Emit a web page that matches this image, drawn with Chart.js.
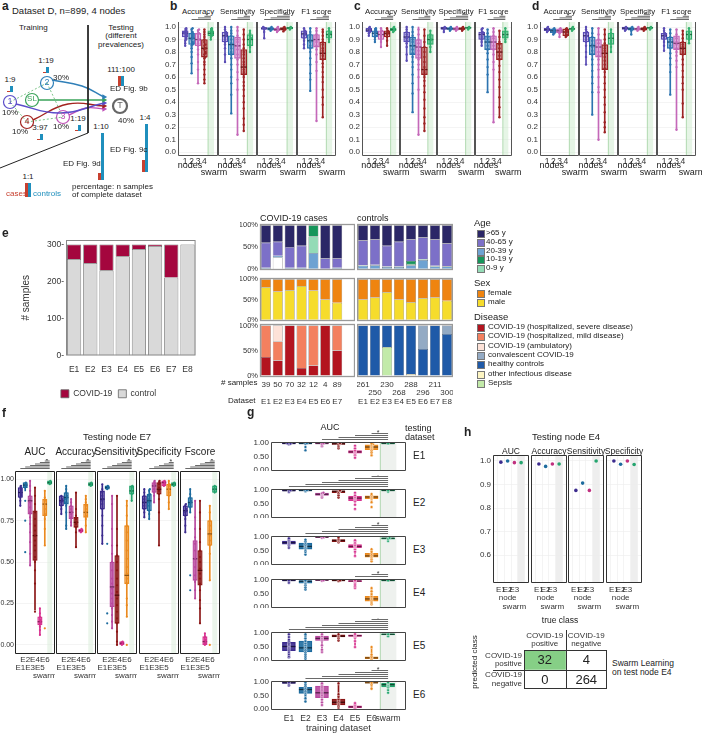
<!DOCTYPE html>
<html><head><meta charset="utf-8">
<script src="https://cdn.jsdelivr.net/npm/chart.js@4.4.1/dist/chart.umd.min.js"></script>
<style>
body{margin:0;background:#fff;width:702px;height:735px;position:relative;overflow:hidden;font-family:"Liberation Sans",Arial,sans-serif;color:#222}
canvas{position:absolute}
.t{position:absolute;white-space:nowrap;line-height:1.05}
.sw{position:absolute;width:6px;height:6px;border:0.5px solid #777}
</style></head><body>
<script>
// ---------- panel a (schematic) ----------
const aNodeLabels = ['1', '2', '3', '4', 'SL', 'T'];
const aNodeX = [10, 47, 63, 27, 32, 120];
const aNodeY = [102, 83, 117, 122, 100, 106];
const aNodeColors = ['#5b4dc9', '#2f7fb8', '#c050b8', '#a3231f', '#3aa35a', '#666666'];
const aFlows = [
  [[52, 80], [82, 86], [104, 97]],
  [[39, 100], [70, 100], [104, 100]],
  [[16, 104], [60, 113], [104, 103]],
  [[33, 120], [68, 104], [104, 106]],
  [[69, 115], [86, 108], [104, 109]]
];
const aFlowColors = ['#2f7fb8', '#3aa35a', '#5b4dc9', '#a3231f', '#c050b8'];
const aLinks = [[0, 1], [0, 3], [1, 2], [3, 2]];
const aRatioLabels = ['1:9', '1:19', '111:100', '1:19', '3:97', '1:10', '1:4', '1:1'];
const aRatioX = [10, 46, 121, 78, 40, 101, 145, 28];
const aRatioBase = [92, 73, 86, 131, 140, 180, 172, 197];
const aRatioCases = [1, 1, 10, 1, 1, 7, 12, 14];
const aRatioControls = [6, 6, 10, 6, 6, 47, 48, 14];
const aPctText = ['10%', '30%', '10%', '10%', '40%'];
const aPctX = [2, 53, 53, 12, 118];
const aPctY = [109, 74, 123, 128, 117];

// ---------- panels b, c, d ----------
const nodeGroups = ['1', '2', '3', '4', 'swarm'];
const bdMetrics = ['Accuracy', 'Sensitivity', 'Specificity', 'F1 score'];
const bdSigFrom = [2, 2, 1, 2];
// [min, q1, median, q3, max] per metric, per group (1-4, swarm)
const bStats = [
  [[0.85,0.92,0.95,0.97,0.99],[0.63,0.86,0.91,0.95,0.99],[0.55,0.85,0.9,0.95,0.98],[0.55,0.76,0.83,0.9,0.98],[0.9,0.93,0.95,0.97,0.99]],
  [[0.72,0.88,0.93,0.96,1.0],[0.31,0.78,0.86,0.93,1.0],[0.14,0.75,0.85,0.92,1.0],[0.17,0.62,0.68,0.82,0.98],[0.8,0.85,0.9,0.94,0.97]],
  [[0.91,0.98,0.99,0.995,1.0],[0.97,0.975,0.985,0.995,1.0],[0.96,0.97,0.98,0.99,1.0],[0.965,0.975,0.985,0.995,1.0],[0.98,0.985,0.992,0.998,1.0]],
  [[0.83,0.91,0.945,0.97,0.99],[0.49,0.83,0.89,0.94,0.99],[0.25,0.84,0.9,0.94,0.99],[0.28,0.74,0.79,0.88,0.98],[0.88,0.91,0.94,0.97,0.99]]
];
const bPoints = [
  [[0.85,0.87,0.89,0.9,0.91,0.92,0.93,0.94,0.95,0.95,0.96,0.97,0.98,0.99],
   [0.63,0.71,0.76,0.8,0.83,0.85,0.86,0.87,0.88,0.9,0.91,0.92,0.93,0.94,0.95,0.96,0.98,0.99],
   [0.55,0.66,0.72,0.78,0.82,0.85,0.87,0.89,0.9,0.92,0.94,0.95,0.97,0.98],
   [0.55,0.58,0.62,0.66,0.7,0.72,0.75,0.76,0.78,0.79,0.8,0.82,0.83,0.85,0.86,0.88,0.9,0.92,0.94,0.96,0.98],
   [0.9,0.92,0.93,0.94,0.95,0.96,0.97,0.98,0.99]],
  [[0.72,0.78,0.83,0.86,0.88,0.9,0.92,0.93,0.94,0.95,0.96,0.98,1.0],
   [0.31,0.46,0.55,0.6,0.66,0.7,0.75,0.78,0.8,0.83,0.85,0.87,0.9,0.93,0.95,0.97,1.0],
   [0.14,0.5,0.58,0.64,0.7,0.74,0.78,0.82,0.85,0.88,0.9,0.93,0.97,1.0],
   [0.17,0.22,0.27,0.35,0.4,0.45,0.5,0.53,0.56,0.6,0.62,0.64,0.66,0.68,0.7,0.72,0.75,0.78,0.8,0.83,0.86,0.9,0.94,0.98],
   [0.8,0.84,0.86,0.88,0.9,0.91,0.93,0.95,0.97]],
  [[0.91,0.96,0.98,0.99,0.99,1.0],[0.97,0.98,0.99,1.0],[0.96,0.97,0.98,0.99,1.0],[0.965,0.975,0.985,0.995,1.0],[0.98,0.99,1.0]],
  [[0.83,0.86,0.89,0.91,0.93,0.94,0.95,0.96,0.97,0.99],
   [0.49,0.58,0.63,0.7,0.75,0.8,0.83,0.85,0.88,0.9,0.92,0.94,0.96,0.99],
   [0.25,0.65,0.72,0.78,0.82,0.85,0.88,0.9,0.92,0.94,0.97,0.99],
   [0.28,0.38,0.44,0.5,0.56,0.6,0.64,0.68,0.71,0.74,0.77,0.79,0.81,0.83,0.86,0.88,0.9,0.93,0.96,0.98],
   [0.88,0.9,0.92,0.94,0.95,0.97,0.99]]
];
const cStats = [
  [[0.93,0.96,0.975,0.99,1.0],[0.88,0.92,0.95,0.97,0.99],[0.84,0.9,0.94,0.97,0.99],[0.85,0.92,0.95,0.97,0.99],[0.96,0.97,0.98,0.99,1.0]],
  [[0.73,0.88,0.92,0.96,1.0],[0.32,0.78,0.85,0.92,1.0],[0.14,0.75,0.84,0.9,1.0],[0.17,0.62,0.66,0.84,0.98],[0.8,0.86,0.9,0.94,0.97]],
  [[0.96,0.98,0.99,1.0,1.0],[0.97,0.98,0.985,0.995,1.0],[0.97,0.975,0.985,0.995,1.0],[0.97,0.98,0.985,0.995,1.0],[0.98,0.99,0.993,1.0,1.0]],
  [[0.85,0.9,0.94,0.96,0.99],[0.48,0.82,0.88,0.93,0.98],[0.24,0.82,0.88,0.93,0.99],[0.28,0.74,0.8,0.87,0.97],[0.88,0.91,0.94,0.97,0.99]]
];
const cPoints = [
  [[0.93,0.95,0.96,0.97,0.98,0.99,1.0],[0.88,0.9,0.92,0.93,0.95,0.96,0.97,0.98,0.99],[0.84,0.88,0.9,0.92,0.94,0.96,0.97,0.99],[0.85,0.89,0.92,0.94,0.95,0.96,0.97,0.99],[0.96,0.97,0.98,0.99,1.0]],
  [[0.73,0.78,0.84,0.87,0.89,0.91,0.92,0.94,0.96,0.98,1.0],
   [0.32,0.47,0.55,0.62,0.68,0.72,0.76,0.79,0.82,0.85,0.88,0.9,0.93,0.96,1.0],
   [0.14,0.5,0.6,0.66,0.7,0.74,0.78,0.81,0.84,0.87,0.9,0.94,0.98],
   [0.17,0.23,0.28,0.35,0.42,0.48,0.53,0.57,0.6,0.62,0.64,0.66,0.68,0.72,0.76,0.8,0.84,0.88,0.93,0.98],
   [0.8,0.84,0.87,0.89,0.9,0.92,0.94,0.97]],
  [[0.96,0.98,0.99,1.0],[0.97,0.98,0.99,1.0],[0.97,0.98,0.99,1.0],[0.97,0.98,0.99,1.0],[0.98,0.99,1.0]],
  [[0.85,0.88,0.9,0.92,0.94,0.95,0.96,0.98,0.99],
   [0.48,0.62,0.68,0.74,0.79,0.82,0.85,0.88,0.9,0.92,0.95,0.98],
   [0.24,0.66,0.72,0.78,0.82,0.85,0.88,0.91,0.93,0.96,0.99],
   [0.28,0.36,0.44,0.52,0.58,0.64,0.69,0.74,0.77,0.8,0.83,0.86,0.88,0.92,0.97],
   [0.88,0.9,0.92,0.94,0.96,0.99]]
];
const dStats = [
  [[0.96,0.97,0.98,0.99,1.0],[0.94,0.955,0.97,0.985,0.99],[0.92,0.955,0.97,0.985,0.99],[0.92,0.93,0.96,0.985,0.99],[0.97,0.98,0.985,0.99,1.0]],
  [[0.7,0.88,0.93,0.96,1.0],[0.3,0.78,0.85,0.92,0.99],[0.1,0.76,0.84,0.9,0.99],[0.16,0.66,0.79,0.86,0.98],[0.8,0.86,0.91,0.95,0.98]],
  [[0.97,0.98,0.99,1.0,1.0],[0.94,0.975,0.985,0.995,1.0],[0.97,0.975,0.985,0.99,1.0],[0.97,0.975,0.985,0.995,1.0],[0.98,0.99,0.993,0.998,1.0]],
  [[0.81,0.9,0.93,0.95,0.99],[0.46,0.83,0.88,0.92,0.98],[0.18,0.82,0.87,0.93,0.98],[0.28,0.78,0.83,0.88,0.97],[0.87,0.9,0.94,0.97,0.99]]
];
const dPoints = [
  [[0.96,0.97,0.98,0.99,1.0],[0.94,0.95,0.96,0.97,0.98,0.99],[0.92,0.95,0.96,0.97,0.98,0.99],[0.92,0.93,0.94,0.96,0.97,0.98,0.99],[0.97,0.98,0.99,1.0]],
  [[0.7,0.76,0.8,0.85,0.88,0.9,0.92,0.93,0.95,0.96,0.98,1.0],
   [0.3,0.48,0.55,0.6,0.65,0.7,0.74,0.78,0.81,0.84,0.86,0.89,0.92,0.95,0.99],
   [0.1,0.48,0.52,0.6,0.66,0.7,0.74,0.77,0.8,0.84,0.87,0.9,0.94,0.99],
   [0.16,0.2,0.24,0.32,0.38,0.44,0.5,0.55,0.6,0.64,0.67,0.7,0.73,0.76,0.79,0.81,0.83,0.85,0.87,0.9,0.94,0.98],
   [0.8,0.84,0.87,0.89,0.91,0.93,0.95,0.98]],
  [[0.97,0.98,0.99,1.0],[0.94,0.97,0.98,0.99,1.0],[0.97,0.98,0.99,1.0],[0.97,0.98,0.99,1.0],[0.98,0.99,1.0]],
  [[0.81,0.85,0.88,0.9,0.92,0.93,0.94,0.95,0.97,0.99],
   [0.46,0.64,0.7,0.75,0.79,0.83,0.85,0.88,0.9,0.92,0.95,0.98],
   [0.18,0.68,0.73,0.77,0.8,0.83,0.86,0.88,0.91,0.94,0.98],
   [0.28,0.39,0.5,0.55,0.6,0.65,0.7,0.74,0.78,0.8,0.82,0.84,0.86,0.88,0.91,0.94,0.97],
   [0.87,0.9,0.92,0.94,0.96,0.99]]
];

// ---------- panel e ----------
const eDatasets = ['E1', 'E2', 'E3', 'E4', 'E5', 'E6', 'E7', 'E8'];
const eCovid = [39, 50, 70, 32, 12, 4, 89, 0];
const eControl = [261, 250, 230, 268, 288, 296, 211, 300];
const ageLabels = ['>65 y', '40-65 y', '20-39 y', '10-19 y', '0-9 y'];
const caseAge = [[40,38,50,47,0,76,76],[58,32,48,51,0,24,22],[2,4,2,2,36,0,2],[0,0,0,0,26,0,0],[0,0,0,0,38,0,0]];
const caseAgeMissing = [0,26,0,0,0,0,0];
const ctrlAge = [[35,33,47,38,32,28,33,42],[57,58,48,57,50,50,60,52],[7,8,4,4,8,20,5,5],[0,0,0,0,7,0,0,0],[1,1,1,1,3,2,2,1]];
const sexLabels = ['female', 'male'];
const caseSex = [[20,30,27,17,28,50,58],[80,70,73,83,72,50,42]];
const ctrlSex = [[50,45,32,50,57,47,45,53],[50,55,68,50,43,53,55,47]];
const diseaseLabels = ['COVID-19 (hospitalized, severe disease)', 'COVID-19 (hospitalized, mild disease)', 'COVID-19 (ambulatory)', 'convalescent COVID-19', 'healthy controls', 'other infectious disease', 'Sepsis'];
const caseDisease = [[37,30,100,15,20,100,50],[63,38,0,85,80,0,50],[0,32,0,0,0,0,0],[0,0,0,0,0,0,0],[0,0,0,0,0,0,0],[0,0,0,0,0,0,0],[0,0,0,0,0,0,0]];
const ctrlDisease = [[0,0,0,0,0,0,0,0],[0,0,0,0,0,0,0,0],[0,0,0,0,0,0,0,0],[0,0,0,0,0,47,0,17],[100,100,43,100,97,53,100,83],[0,0,0,0,3,0,0,0],[0,0,57,0,0,0,0,0]];

// ---------- panel f ----------
const fMetrics = ['AUC', 'Accuracy', 'Sensitivity', 'Specificity', 'Fscore'];
const fGroups = ['E1', 'E2', 'E3', 'E4', 'E5', 'E6', 'swarm'];
const fSigFrom = [1, 1, 1, 2, 1];
const fStats = [
  [[0.84,0.89,0.92,0.95,0.96],[0.93,0.95,0.965,0.98,0.98],[0.48,0.79,0.87,0.9,0.99],[0.21,0.51,0.66,0.81,0.95],[0.06,0.12,0.14,0.17,0.22],[0.6,0.78,0.85,0.88,0.93],[0.97,0.97,0.98,0.99,0.99]],
  [[0.79,0.84,0.87,0.9,0.9],[0.7,0.85,0.89,0.92,0.96],[0.72,0.76,0.8,0.84,0.88],[0.59,0.71,0.74,0.77,0.92],[0.68,0.68,0.69,0.7,0.7],[0.68,0.77,0.8,0.85,0.9],[0.96,0.96,0.97,0.98,0.98]],
  [[0.61,0.82,0.88,0.93,0.97],[0.94,0.94,0.95,0.96,0.96],[0.1,0.23,0.35,0.5,0.9],[0.0,0.13,0.3,0.54,0.9],[0.0,0.0,0.01,0.02,0.02],[0.17,0.37,0.42,0.72,0.87],[0.87,0.91,0.93,0.96,0.96]],
  [[0.77,0.82,0.86,0.9,0.94],[0.76,0.81,0.87,0.91,0.94],[0.86,0.92,0.96,0.98,0.99],[0.6,0.91,0.94,0.98,0.99],[0.96,0.96,0.98,0.99,0.99],[0.82,0.9,0.94,0.97,0.99],[0.96,0.96,0.97,0.98,0.98]],
  [[0.68,0.78,0.81,0.84,0.85],[0.8,0.83,0.86,0.89,0.94],[0.28,0.39,0.52,0.63,0.87],[0.13,0.36,0.45,0.57,0.87],[0.0,0.0,0.02,0.05,0.07],[0.39,0.6,0.67,0.75,0.84],[0.92,0.92,0.94,0.96,0.96]]
];
const fPoints = [
  [[0.84,0.87,0.89,0.9,0.91,0.92,0.93,0.94,0.95,0.96],[0.56,0.75,0.87,0.95,0.96,0.97,0.98],
   [0.48,0.55,0.62,0.68,0.73,0.77,0.8,0.83,0.86,0.88,0.9,0.93,0.96,0.99],
   [0.2,0.37,0.45,0.5,0.53,0.57,0.6,0.63,0.66,0.69,0.72,0.76,0.8,0.85,0.9,0.95],
   [0.06,0.09,0.11,0.13,0.14,0.15,0.17,0.19,0.22],[0.1,0.6,0.7,0.76,0.79,0.82,0.85,0.87,0.89,0.93],[0.97,0.98,0.99]],
  [[0.79,0.82,0.84,0.86,0.87,0.88,0.9],[0.7,0.72,0.8,0.84,0.86,0.88,0.89,0.9,0.92,0.94,0.96],[0.72,0.74,0.77,0.79,0.8,0.82,0.84,0.86,0.88],
   [0.59,0.68,0.71,0.73,0.74,0.76,0.78,0.82,0.92],[0.68,0.69,0.7],[0.68,0.72,0.76,0.78,0.8,0.82,0.84,0.86,0.88,0.9],[0.96,0.97,0.98]],
  [[0.61,0.66,0.72,0.78,0.82,0.85,0.87,0.88,0.9,0.92,0.94,0.97],[0.13,0.19,0.61,0.94,0.95,0.96],
   [0.1,0.14,0.18,0.22,0.25,0.28,0.31,0.34,0.37,0.4,0.45,0.5,0.55,0.6,0.7,0.85,0.9],
   [0.0,0.02,0.08,0.13,0.16,0.2,0.24,0.28,0.32,0.36,0.4,0.45,0.5,0.54,0.6,0.7,0.9],
   [0.0,0.01,0.02],[0.0,0.17,0.24,0.28,0.37,0.4,0.43,0.47,0.52,0.57,0.63,0.68,0.72,0.78,0.84,0.87],[0.87,0.91,0.93,0.95,0.96]],
  [[0.77,0.8,0.82,0.84,0.86,0.88,0.9,0.92,0.94],[0.76,0.79,0.81,0.84,0.86,0.88,0.9,0.91,0.93,0.94],[0.86,0.9,0.92,0.94,0.96,0.97,0.98,0.99],
   [0.6,0.8,0.88,0.91,0.93,0.95,0.97,0.98,0.99],[0.96,0.97,0.98,0.99],[0.82,0.86,0.9,0.92,0.94,0.96,0.97,0.99],[0.96,0.97,0.98]],
  [[0.68,0.72,0.76,0.78,0.8,0.81,0.82,0.84,0.85],[0.33,0.42,0.8,0.83,0.85,0.86,0.87,0.89,0.91,0.94],
   [0.28,0.33,0.38,0.42,0.47,0.52,0.57,0.61,0.65,0.7,0.77,0.87],
   [0.13,0.22,0.27,0.33,0.37,0.4,0.43,0.46,0.5,0.53,0.57,0.62,0.7,0.8,0.87],
   [0.0,0.01,0.02,0.03,0.05,0.07],[0.0,0.39,0.55,0.6,0.63,0.66,0.69,0.72,0.75,0.8,0.84],[0.92,0.94,0.96]]
];

// ---------- panel g ----------
const gTestRows = ['E1', 'E2', 'E3', 'E4', 'E5', 'E6'];
const gSigFrom = [3, 1, 2, 5, 1, 2];
const gStats = [
  [[0.95,0.97,0.98,0.99,1.0],[0.93,0.97,0.98,0.99,1.0],[0.93,0.97,0.98,0.99,1.0],[0.9,0.95,0.97,0.98,1.0],[0.45,0.62,0.67,0.72,0.9],[0.55,0.75,0.85,0.93,0.98],[0.97,0.975,0.98,0.985,0.99]],
  [[0.92,0.96,0.975,0.99,1.0],[0.95,0.97,0.98,0.99,1.0],[0.72,0.8,0.84,0.88,0.9],[0.72,0.9,0.95,0.97,0.98],[0.45,0.6,0.7,0.76,0.9],[0.55,0.68,0.74,0.78,0.85],[0.93,0.97,0.98,0.98,0.99]],
  [[0.6,0.73,0.79,0.85,0.95],[0.35,0.55,0.65,0.77,0.9],[0.97,0.98,0.99,1.0,1.0],[0.8,0.83,0.87,0.9,0.98],[0.3,0.6,0.65,0.72,0.88],[0.1,0.25,0.3,0.4,0.55],[0.85,0.92,0.95,0.97,0.98]],
  [[0.9,0.97,0.98,0.99,1.0],[0.65,0.88,0.95,0.98,1.0],[0.97,0.98,0.99,1.0,1.0],[0.96,0.97,0.98,0.99,1.0],[0.7,0.94,0.96,0.98,1.0],[0.1,0.22,0.3,0.4,0.7],[0.96,0.97,0.98,0.99,1.0]],
  [[0.1,0.35,0.5,0.65,0.95],[0.05,0.3,0.45,0.7,0.95],[0.3,0.72,0.8,0.88,0.95],[0.72,0.85,0.88,0.93,0.95],[0.48,0.87,0.9,0.93,0.96],[0.0,0.05,0.08,0.12,0.48],[0.88,0.93,0.95,0.97,0.98]],
  [[0.87,0.95,0.97,0.99,1.0],[0.28,0.58,0.72,0.8,0.98],[0.15,0.42,0.6,0.85,0.95],[0.05,0.15,0.25,0.37,0.95],[0.0,0.05,0.08,0.12,0.22],[0.75,0.96,0.97,0.98,1.0],[0.6,0.82,0.9,0.95,0.98]]
];
const gPoints = [
  [[0.95,0.97,0.98,0.99],[0.73,0.85,0.97,0.99],[0.88,0.93,0.97,0.99],[0.8,0.86,0.9,0.95,0.97,0.99],[0.45,0.55,0.6,0.65,0.68,0.72,0.8,0.9],[0.55,0.65,0.72,0.78,0.83,0.87,0.92,0.95,0.98],[0.98]],
  [[0.92,0.97,0.99],[0.95,0.98,0.99],[0.72,0.78,0.82,0.85,0.88,0.9],[0.72,0.8,0.88,0.93,0.96,0.98],[0.3,0.45,0.58,0.65,0.7,0.74,0.8,0.9],[0.37,0.55,0.68,0.72,0.76,0.8,0.85],[0.93,0.98]],
  [[0.6,0.68,0.74,0.78,0.82,0.86,0.9,0.95],[0.35,0.45,0.52,0.58,0.63,0.68,0.72,0.78,0.84,0.9],[0.97,0.99,1.0],[0.8,0.85,0.88,0.92,0.98],[0.3,0.45,0.55,0.62,0.66,0.7,0.76,0.82,0.88],[0.1,0.18,0.24,0.28,0.32,0.38,0.45,0.55],[0.85,0.93,0.96]],
  [[0.9,0.98],[0.65,0.72,0.8,0.86,0.9,0.95,0.98],[0.97,0.99],[0.96,0.98],[0.7,0.76,0.82,0.9,0.95,0.98],[0.1,0.15,0.2,0.25,0.3,0.35,0.4,0.48,0.58,0.7],[0.98]],
  [[0.1,0.15,0.22,0.3,0.38,0.45,0.5,0.55,0.6,0.68,0.75,0.85,0.95],[0.05,0.12,0.2,0.28,0.35,0.42,0.48,0.55,0.62,0.7,0.8,0.9,0.95],[0.3,0.38,0.55,0.72,0.78,0.82,0.88,0.95],[0.72,0.8,0.86,0.9,0.95],[0.48,0.7,0.82,0.88,0.92,0.96],[0.0,0.04,0.08,0.12,0.2,0.48],[0.88,0.95]],
  [[0.87,0.93,0.98],[0.28,0.4,0.52,0.6,0.66,0.72,0.78,0.84,0.9,0.98],[0.15,0.25,0.35,0.45,0.52,0.6,0.68,0.75,0.82,0.9,0.95],[0.05,0.1,0.15,0.2,0.25,0.3,0.36,0.45,0.55,0.95],[0.0,0.04,0.08,0.12,0.16,0.22],[0.75,0.9,0.97],[0.6,0.7,0.8,0.86,0.9,0.95,0.98]]
];

// ---------- panel h ----------
const hMetrics = ['AUC', 'Accuracy', 'Sensitivity', 'Specificity'];
const hGroups = ['E1', 'E2', 'E3', 'swarm'];
const hValues = [[0.995,1.0,0.993,0.993],[0.987,0.977,0.987,0.987],[0.875,0.906,0.875,1.0],[1.0,0.986,1.0,0.985]];
const cmCols = [['COVID-19', 'positive'], ['COVID-19', 'negative']];
const cmRows = [['COVID-19', 'positive'], ['COVID-19', 'negative']];
const cmCounts = [[32, 4], [0, 264]];

// ---------- styling ----------
const BD_COLORS = ['#5b4db5', '#2d74b0', '#c468b9', '#9c2424', '#33b06e'];
const FG_COLORS = ['#3c2b8e', '#1d6b9e', '#b8489e', '#8a1515', '#d7328f', '#ea8a1f', '#25a56f'];
const H_COLORS = ['#3c2b8e', '#1d6b9e', '#c0307f', '#25a56f'];
const AGE_COLORS = ['#2b2767', '#7c70c8', '#6ea2d2', '#16955a', '#94dbb6'];
const SEX_COLORS = ['#ef8410', '#f6dc2c'];
const DIS_COLORS = ['#b3141f', '#f3805f', '#fde2d8', '#93aac4', '#1f5aa8', '#fdf5c2', '#c2eaa9'];
const AGE_STACK = [2, 4, 3, 1, 0];
const DIS_STACK = [0, 1, 2, 6, 5, 4, 3];

Chart.defaults.font.family = '"Liberation Sans", Arial, sans-serif';
Chart.defaults.font.size = 8;
Chart.defaults.color = '#333';
Chart.defaults.animation = false;
Chart.defaults.responsive = false;
Chart.defaults.events = [];
Chart.defaults.plugins.legend.display = false;
Chart.defaults.plugins.tooltip.enabled = false;

function cv(x, y, w, h) {
  const c = document.createElement('canvas');
  c.width = w; c.height = h;
  c.style.left = x + 'px'; c.style.top = y + 'px';
  document.body.appendChild(c);
  return c;
}
function tx(x, y, s, size, o = {}) {
  const d = document.createElement('div');
  d.className = 't';
  d.innerHTML = s;
  d.style.left = x + 'px'; d.style.top = y + 'px'; d.style.fontSize = size + 'px';
  if (o.b) d.style.fontWeight = 'bold';
  if (o.color) d.style.color = o.color;
  if (o.align) d.style.textAlign = o.align;
  let tr = '';
  if (o.c) tr += 'translateX(-50%) ';
  if (o.r) tr += 'translateX(-100%) ';
  if (o.rot) tr += 'translate(-50%,-50%) rotate(' + o.rot + 'deg)';
  if (tr) d.style.transform = tr;
  document.body.appendChild(d);
  return d;
}
function alpha(h, a) {
  const n = parseInt(h.slice(1), 16);
  return `rgba(${n >> 16},${(n >> 8) & 255},${n & 255},${a})`;
}
function darken(h, f) {
  const n = parseInt(h.slice(1), 16);
  return `rgb(${Math.round((n >> 16) * f)},${Math.round(((n >> 8) & 255) * f)},${Math.round((n & 255) * f)})`;
}
// simple beeswarm: spread points that sit at near-equal values
function swarmOffsets(vals, step, tol) {
  const placed = [];
  return vals.map(v => {
    const m = placed.filter(u => Math.abs(u - v) < tol).length;
    placed.push(v);
    return m ? Math.ceil(m / 2) * step * (m % 2 ? 1 : -1) : 0;
  });
}
function framePlugin(color, lw) {
  return {
    id: 'frame',
    afterDatasetsDraw(ch) {
      const {ctx, chartArea: a} = ch;
      ctx.save(); ctx.strokeStyle = color; ctx.lineWidth = lw;
      ctx.strokeRect(a.left + 0.5, a.top + 0.5, a.right - a.left - 1, a.bottom - a.top - 1);
      ctx.restore();
    }
  };
}

// one facet of a box/point plot
function facet(o) {
  const n = o.groups.length, lw = o.labelW || 0;
  const whis = [], box = [], med = [], boxCol = [], pts = [], ptCol = [];
  o.groups.forEach((g, i) => {
    const x = i + 1;
    if (g.s) {
      whis.push({x, y: [g.s[0], g.s[4]]});
      box.push({x, y: [g.s[1], g.s[3]]});
      med.push({x, y: g.s[2]});
      boxCol.push(o.colors[i]);
    }
    const off = swarmOffsets(g.p, o.jit || 0, o.tol || 0);
    g.p.forEach((v, k) => { pts.push({x: x + off[k], y: v}); ptCol.push(o.colors[i]); });
  });
  const deco = {
    id: 'deco',
    beforeDatasetsDraw(ch) {
      const {ctx, chartArea: a, scales: {x}} = ch;
      if (!o.shade) return;
      const l = x.getPixelForValue(n - 0.5), r = x.getPixelForValue(n + 0.5);
      ctx.save();
      ctx.fillStyle = o.shade;
      ctx.fillRect(l, a.top, r - l, a.bottom - a.top);
      if (o.shadeLine) {
        ctx.strokeStyle = o.shadeLine; ctx.lineWidth = 0.8;
        ctx.beginPath(); ctx.moveTo(l + 0.5, a.top); ctx.lineTo(l + 0.5, a.bottom); ctx.stroke();
      }
      ctx.restore();
    },
    afterDraw(ch) {
      const {ctx, chartArea: a, scales: {x}} = ch;
      ctx.save();
      ctx.strokeStyle = o.frameColor || '#333'; ctx.lineWidth = o.frameW || 1;
      ctx.beginPath();
      if (o.frame === 'all') {
        ctx.rect(a.left + 0.5, a.top + 0.5, a.right - a.left - 1, a.bottom - a.top - 1);
      } else {
        ctx.moveTo(a.left + 0.5, a.top); ctx.lineTo(a.left + 0.5, a.bottom - 0.5);
        ctx.lineTo(a.right - 0.5, a.bottom - 0.5); ctx.lineTo(a.right - 0.5, a.top);
      }
      ctx.stroke();
      if (o.sig) {
        const xr = x.getPixelForValue(n);
        let yy = a.top - 2.5;
        ctx.strokeStyle = '#6a6a6a'; ctx.lineWidth = 1;
        for (let k = o.sig; k < n; k++) {
          ctx.beginPath(); ctx.moveTo(x.getPixelForValue(k), yy); ctx.lineTo(xr, yy); ctx.stroke();
          yy -= o.sigGap || 1.6;
        }
        ctx.fillStyle = '#333'; ctx.font = '7px "Liberation Sans", Arial';
        ctx.textAlign = 'center';
        ctx.fillText('*', x.getPixelForValue(n - 0.6), yy + 3);
      }
      ctx.restore();
    }
  };
  return new Chart(cv(o.x - lw, o.y - o.top, o.w + lw, o.top + o.h + o.bottom), {
    type: 'bar',
    data: {datasets: [
      {type: 'scatter', data: pts, pointRadius: o.pr, pointBackgroundColor: ptCol,
       pointBorderColor: o.ptBorder || ptCol, pointBorderWidth: o.ptBorder ? 0.5 : 0, order: 0},
      {type: 'scatter', data: med, pointStyle: 'line', pointRadius: o.bw / 2,
       pointBorderColor: boxCol.map(c => darken(c, o.medDark || 0.6)), pointBorderWidth: 1.3, order: 1},
      {data: box, grouped: false, barThickness: o.bw, backgroundColor: boxCol.map(c => alpha(c, o.boxA || 0.35)),
       borderColor: boxCol, borderWidth: 0.7, borderSkipped: false, minBarLength: 1, order: 2},
      {data: whis, grouped: false, barThickness: 1, backgroundColor: boxCol, order: 3}
    ]},
    options: {
      layout: {padding: {top: o.top, left: 0, right: 0, bottom: 0}, autoPadding: false},
      scales: {
        x: {type: 'linear', min: 0.5, max: n + 0.5,
            grid: {display: !!o.vgrid, color: '#ececec', lineWidth: 0.6, drawTicks: false}, border: {display: false},
            afterBuildTicks: s => { s.ticks = o.groups.map((g, i) => ({value: i + 1})); },
            ticks: {display: !!o.xlab, autoSkip: false, maxRotation: 0, minRotation: 0, padding: o.xpad || 1,
                    font: {size: o.xfs || 8, lineHeight: o.xlh || 1.1}, color: '#333',
                    callback: (v, i) => o.xlab ? o.xlab[i] : ''},
            title: o.xtitle ? {display: true, text: o.xtitle, font: {size: 9.5}, color: '#333', padding: {top: 1, bottom: 0}} : {display: false},
            afterFit: s => { s.height = o.bottom; s.paddingLeft = 0; s.paddingRight = 0; }},
        y: {type: 'linear', min: o.ymin, max: o.ymax,
            grid: {display: o.hgrid !== false, color: '#ececec', lineWidth: 0.6, drawTicks: false}, border: {display: false},
            afterBuildTicks: s => { s.ticks = o.yticks.map(v => ({value: v})); },
            ticks: {display: lw > 0, padding: o.ypad ?? 2, font: {size: o.yfs || 8}, color: '#333', callback: v => o.yfmt(v)},
            afterFit: s => { s.width = lw; s.paddingTop = 0; s.paddingBottom = 0; }}
      }
    },
    plugins: [deco]
  });
}

// ================= panel a =================
tx(2, 0, 'a', 12, {b: 1});
tx(12, 6, 'Dataset D, n=899, 4 nodes', 9.5);
tx(19, 24, 'Training', 8);
tx(121, 24, 'Testing<br>(different<br>prevalences)', 8, {c: 1, align: 'center'});
{
  const ds = [];
  ds.push({type: 'line', data: [{x: 88, y: 25}, {x: 88, y: 133}, {x: 0, y: 168}], borderColor: '#222', borderWidth: 1, pointRadius: 0});
  aLinks.forEach(([p, q]) => ds.push({type: 'line', data: [{x: aNodeX[p], y: aNodeY[p]}, {x: aNodeX[q], y: aNodeY[q]}],
    borderColor: '#5bb56a', borderWidth: 0.8, borderDash: [2, 2], pointRadius: 0}));
  aFlows.forEach((f, i) => ds.push({type: 'line', data: f.map(p => ({x: p[0], y: p[1]})), tension: 0.45,
    borderColor: aFlowColors[i], borderWidth: 1.4, pointRadius: [0, 0, 3.2], pointStyle: 'triangle', pointRotation: 90,
    pointBackgroundColor: aFlowColors[i], pointBorderWidth: 0}));
  aRatioX.forEach((x, i) => {
    ds.push({type: 'line', data: [{x: x - 1.5, y: aRatioBase[i]}, {x: x - 1.5, y: aRatioBase[i] - aRatioCases[i]}], borderColor: '#c8402f', borderWidth: 3, pointRadius: 0});
    ds.push({type: 'line', data: [{x: x + 1.5, y: aRatioBase[i]}, {x: x + 1.5, y: aRatioBase[i] - aRatioControls[i]}], borderColor: '#1f8fbd', borderWidth: 3, pointRadius: 0});
    tx(x, aRatioBase[i] - aRatioControls[i] - 10, aRatioLabels[i], 8, {c: 1});
  });
  ds.push({type: 'scatter', data: aNodeX.map((x, i) => ({x, y: aNodeY[i]})), pointRadius: aNodeLabels.map(l => l === 'T' ? 7 : 6.5),
    pointBackgroundColor: '#fff', pointBorderColor: aNodeColors, pointBorderWidth: aNodeLabels.map(l => l === 'T' ? 2.2 : 1.2)});
  new Chart(cv(0, 20, 170, 182), {
    type: 'scatter', data: {datasets: ds},
    options: {layout: {padding: 0, autoPadding: false},
      scales: {x: {display: false, min: 0, max: 170}, y: {display: false, min: 20, max: 202, reverse: true}}}
  });
  aNodeLabels.forEach((l, i) => tx(aNodeX[i], aNodeY[i] - 5, l, l === 'SL' ? 8 : 9, {c: 1, color: aNodeColors[i]}));
  aPctText.forEach((s, i) => tx(aPctX[i], aPctY[i], s, 8));
  tx(110, 85, 'ED Fig. 9b', 8);
  tx(110, 146, 'ED Fig. 9c', 8);
  tx(63, 160, 'ED Fig. 9d', 8);
  tx(72, 183, 'percentage: n samples<br>of complete dataset', 8);
  tx(6, 190, 'cases', 8, {color: '#c8402f'});
  tx(33, 190, 'controls', 8, {color: '#1f8fbd'});
}

// ================= panels b, c, d =================
const bdPanels = [
  {letter: 'b', x0: 178, step: 39.5, stats: bStats, pts: bPoints},
  {letter: 'c', x0: 362, step: 37.5, stats: cStats, pts: cPoints},
  {letter: 'd', x0: 540, step: 39, stats: dStats, pts: dPoints}
];
bdPanels.forEach(P => {
  tx(P.x0 - 8, 0, P.letter, 12, {b: 1});
  bdMetrics.forEach((m, i) => {
    const x = Math.round(P.x0 + i * P.step), w = Math.round(P.x0 + (i + 1) * P.step) - x;
    tx(x + w / 2, 8, m, 7.8, {c: 1});
    facet({x, y: 22, w, h: 134, top: 10, bottom: 12, labelW: i === 0 ? 15 : 0,
      groups: P.stats[i].map((s, k) => ({s, p: P.pts[i][k]})), colors: BD_COLORS,
      ymin: -0.03, ymax: 1.04, yticks: [0, 0.1, 0.2, 0.3, 0.4, 0.5, 0.6, 0.7, 0.8, 0.9, 1.0], yfmt: v => v.toFixed(1),
      xlab: ['1', '2', '3', '4', ''], xfs: 8.5, bw: 6, jit: 0.16, tol: 0.015, pr: 1.2,
      shade: 'rgba(205,235,205,0.5)', shadeLine: 'rgba(140,200,140,0.7)', frame: 'lrb', frameColor: '#555',
      sig: bdSigFrom[i], sigGap: 1.6, boxA: 0.35});
    tx(x + w * 0.3, 161, 'nodes', 9, {c: 1});
    tx(x + w * 0.9, 168, 'swarm', 9, {c: 1});
  });
});

// ================= panel e =================
tx(2, 227, 'e', 12, {b: 1});
new Chart(cv(20, 232, 182, 176), {
  type: 'bar',
  data: {labels: eDatasets, datasets: [
    {label: 'control', data: eControl, backgroundColor: '#d9d9d9', borderColor: '#666', borderWidth: 0.8, barPercentage: 0.92, categoryPercentage: 0.95},
    {label: 'COVID-19', data: eCovid, backgroundColor: '#a4063e', borderColor: '#666', borderWidth: 0.8, barPercentage: 0.92, categoryPercentage: 0.95}
  ]},
  options: {
    layout: {padding: {top: 8, right: 5}, autoPadding: false},
    plugins: {legend: {display: true, position: 'bottom', reverse: true,
      labels: {boxWidth: 8, boxHeight: 8, font: {size: 8.5}, padding: 6, color: '#333'}}},
    scales: {
      x: {stacked: true, grid: {display: false, drawTicks: false}, border: {display: false},
          ticks: {padding: 9, font: {size: 8.5}, color: '#333', autoSkip: false, maxRotation: 0, minRotation: 0},
          afterFit: s => { s.height = 28; }},
      y: {stacked: true, min: 0, max: 312, grid: {display: false, drawTicks: false}, border: {display: false},
          afterBuildTicks: s => { s.ticks = [0, 100, 200, 300].map(v => ({value: v})); },
          ticks: {font: {size: 8.5}, padding: 2, color: '#333', callback: v => v + '-'},
          title: {display: true, text: '# samples', font: {size: 10}, color: '#333', padding: 0},
          afterFit: s => { s.width = 46; }}
    }
  },
  plugins: [framePlugin('#888', 1)]
});

function comp(x, y, w, h, labels, sets, o) {
  const lw = o.labelW || 0, pad = 5;
  return new Chart(cv(x - lw, y - pad, w + lw, h + pad + (o.bottom || pad)), {
    type: 'bar',
    data: {labels, datasets: sets.map(s => ({data: s.data, backgroundColor: s.color, borderColor: '#555', borderWidth: 0.5,
      barPercentage: 1, categoryPercentage: 0.84}))},
    options: {
      layout: {padding: {top: pad, bottom: o.bottom ? 0 : pad, left: 0, right: 0}, autoPadding: false},
      scales: {
        x: {stacked: true, grid: {display: false, drawTicks: false}, border: {display: false},
            ticks: {display: !!o.xlab, maxRotation: 0, autoSkip: false, padding: 3, font: {size: 8, lineHeight: 1.1}, color: '#333',
                    callback: (v, i) => o.xlab ? o.xlab[i] : ''},
            afterFit: s => { s.height = o.bottom || 0; s.paddingLeft = 0; s.paddingRight = 0; }},
        y: {stacked: true, min: -3, max: 103, grid: {display: false, drawTicks: false}, border: {display: false},
            afterBuildTicks: s => { s.ticks = [0, 50, 100].map(v => ({value: v})); },
            ticks: {display: lw > 0, padding: 2, font: {size: 7.5}, color: '#333', callback: v => v + '%'},
            afterFit: s => { s.width = lw; s.paddingTop = 0; s.paddingBottom = 0; }}
      }
    },
    plugins: [framePlugin('#9a9a9a', 1.3)]
  });
}
tx(260, 214, 'COVID-19 cases', 9);
tx(357, 214, 'controls', 9);
const caseLabels = eDatasets.slice();
const caseXLab = eDatasets.map((e, i) => i < 7 ? [String(eCovid[i]), '', e] : ['', '', '']);
const ctrlXLab = eDatasets.map((e, i) => i % 2 === 0 ? [String(eControl[i]), '', e] : ['', String(eControl[i]), e]);
comp(260, 224, 95, 46, caseLabels,
  [{data: caseAgeMissing, color: '#ffffff'}].concat(AGE_STACK.map(k => ({data: caseAge[k], color: AGE_COLORS[k]}))), {labelW: 20});
comp(357, 224, 96, 46, eDatasets, AGE_STACK.map(k => ({data: ctrlAge[k], color: AGE_COLORS[k]})), {});
comp(260, 278, 95, 43, caseLabels, [1, 0].map(k => ({data: caseSex[k], color: SEX_COLORS[k]})), {labelW: 20});
comp(357, 278, 96, 43, eDatasets, [1, 0].map(k => ({data: ctrlSex[k], color: SEX_COLORS[k]})), {});
comp(260, 324, 95, 53, caseLabels, DIS_STACK.map(k => ({data: caseDisease[k], color: DIS_COLORS[k]})), {labelW: 20, bottom: 32, xlab: caseXLab});
comp(357, 324, 96, 53, eDatasets, DIS_STACK.map(k => ({data: ctrlDisease[k], color: DIS_COLORS[k]})), {bottom: 32, xlab: ctrlXLab});
tx(221, 379, '# samples', 8);
tx(228, 397, 'Dataset', 8);

function legendBlock(x, y, title, labels, colors, gap, tx0) {
  tx(x, y, title, 9.5);
  labels.forEach((l, i) => {
    const d = document.createElement('div');
    d.className = 'sw';
    d.style.left = (x + 3) + 'px'; d.style.top = (y + 12 + i * gap) + 'px'; d.style.background = colors[i];
    document.body.appendChild(d);
    tx(x + tx0, y + 11 + i * gap, l, 8);
  });
}
legendBlock(474, 218, 'Age', ageLabels, AGE_COLORS, 8.8, 12);
legendBlock(474, 278, 'Sex', sexLabels, SEX_COLORS, 8.5, 14);
legendBlock(474, 312, 'Disease', diseaseLabels, DIS_COLORS, 9.3, 14);

// ================= panel f =================
tx(2, 407, 'f', 12, {b: 1});
tx(117, 432, 'Testing node E7', 9.5, {c: 1});
const fXLab = [['', 'E1'], ['E2'], ['', 'E3'], ['E4'], ['', 'E5'], ['E6', '', 'swarm'], ['']];
fMetrics.forEach((m, i) => {
  const x = Math.round(15 + i * 41.2), w = 40;
  tx(x + w / 2, 447, m, 10, {c: 1});
  facet({x, y: 471, w, h: 183, top: 12, bottom: 30, labelW: i === 0 ? 15 : 0,
    groups: fStats[i].map((s, k) => ({s, p: fPoints[i][k]})), colors: FG_COLORS,
    ymin: -0.055, ymax: 1.05, yticks: [0, 0.25, 0.5, 0.75, 1.0], yfmt: v => v.toFixed(2), yfs: 7, ypad: 1,
    xlab: fXLab, xfs: 8, xlh: 1.0, xpad: 2, bw: 4.5, jit: 0.14, tol: 0.012, pr: 1.1,
    shade: 'rgba(222,238,222,0.6)', frame: 'all', frameColor: '#222',
    sig: fSigFrom[i], sigGap: 1.5, boxA: 0.4});
});

// ================= panel g =================
tx(247, 406, 'g', 12, {b: 1});
tx(330, 423, 'AUC', 9, {c: 1});
tx(405, 424, 'testing<br>dataset', 9);
const gRowTop = [442, 489, 536, 579, 632, 681];
gTestRows.forEach((r, i) => {
  const last = i === gTestRows.length - 1;
  facet({x: 271, y: gRowTop[i], w: 135, h: 29, top: 14, bottom: last ? 24 : 0, labelW: 25,
    groups: gStats[i].map((s, k) => ({s, p: gPoints[i][k]})), colors: FG_COLORS,
    ymin: -0.035, ymax: 1.035, yticks: [0, 0.5, 1.0], yfmt: v => v.toFixed(2),
    xlab: last ? fGroups : null, xfs: 8.5, xpad: 4, xtitle: last ? 'training dataset' : null,
    bw: 13, jit: 0.09, tol: 0.03, pr: 1.5, ptBorder: '#ffffff', boxA: 0.9, medDark: 0.45,
    shade: 'rgba(236,239,236,0.9)', shadeLine: 'rgba(130,195,130,0.7)', frame: 'all', frameColor: '#444',
    hgrid: false, sig: gSigFrom[i], sigGap: 2});
  tx(413, gRowTop[i] + 9, r, 10);
});

// ================= panel h =================
tx(464, 426, 'h', 12, {b: 1});
tx(566, 432, 'Testing node E4', 9.5, {c: 1});
const hXLab = [['E1'], ['E2', 'node'], ['E3', '', 'swarm'], ['']];
hMetrics.forEach((m, i) => {
  const x = Math.round(493 + i * 37.7), w = 36;
  tx(x + w / 2, 447, m, 8.5, {c: 1});
  facet({x, y: 455, w, h: 128, top: 0, bottom: 32, labelW: i === 0 ? 15 : 0,
    groups: hValues[i].map(v => ({p: [v]})), colors: H_COLORS,
    ymin: 0.481, ymax: 1.0255, yticks: [0.6, 0.7, 0.8, 0.9, 1.0], yfmt: v => v.toFixed(1),
    xlab: hXLab, xfs: 8, xlh: 1.1, xpad: 2, pr: 1.8, bw: 0,
    shade: 'rgba(236,236,236,0.9)', frame: 'all', frameColor: '#333', hgrid: true, vgrid: true});
});
tx(560, 616, 'true class', 8.5, {c: 1});
tx(475, 662, 'predicted class', 8, {rot: -90});
new Chart(cv(472, 628, 136, 62), {
  type: 'bar',
  data: {labels: cmCols, datasets: [{data: [[0, 1], null], backgroundColor: '#86cf86', barPercentage: 1, categoryPercentage: 1}]},
  options: {
    layout: {padding: {right: 1, bottom: 1}, autoPadding: false},
    scales: {
      x: {position: 'top', grid: {display: false, drawTicks: false}, border: {display: false},
          ticks: {padding: 2, font: {size: 8, lineHeight: 1.05}, color: '#333', maxRotation: 0},
          afterFit: s => { s.height = 22; s.paddingLeft = 0; s.paddingRight = 0; }},
      y: {min: 0, max: 2, reverse: true, grid: {display: false, drawTicks: false}, border: {display: false},
          afterBuildTicks: s => { s.ticks = [0.5, 1.5].map(v => ({value: v})); },
          ticks: {padding: 2, font: {size: 8, lineHeight: 1.05}, color: '#333', callback: (v, i) => cmRows[i]},
          afterFit: s => { s.width = 52; s.paddingTop = 0; s.paddingBottom = 0; }}
    }
  },
  plugins: [{
    id: 'cm',
    afterDraw(ch) {
      const {ctx, chartArea: a, scales: {x, y}} = ch;
      ctx.save();
      ctx.strokeStyle = '#333'; ctx.lineWidth = 1;
      ctx.strokeRect(a.left + 0.5, a.top + 0.5, a.right - a.left - 1, a.bottom - a.top - 1);
      const xm = Math.round(x.getPixelForValue(0.5)) + 0.5, ym = Math.round(y.getPixelForValue(1)) + 0.5;
      ctx.beginPath(); ctx.moveTo(xm, 2); ctx.lineTo(xm, a.bottom); ctx.stroke();
      ctx.beginPath(); ctx.moveTo(21, ym); ctx.lineTo(a.right, ym); ctx.stroke();
      ctx.fillStyle = '#222'; ctx.font = '13px "Liberation Sans", Arial'; ctx.textAlign = 'center'; ctx.textBaseline = 'middle';
      cmCounts.forEach((row, r) => row.forEach((v, c) => ctx.fillText(String(v), x.getPixelForValue(c), y.getPixelForValue(r + 0.5) + 1)));
      ctx.restore();
    }
  }]
});
tx(612, 659, 'Swarm Learning<br>on test node E4', 8.5);
</script>
</body></html>
